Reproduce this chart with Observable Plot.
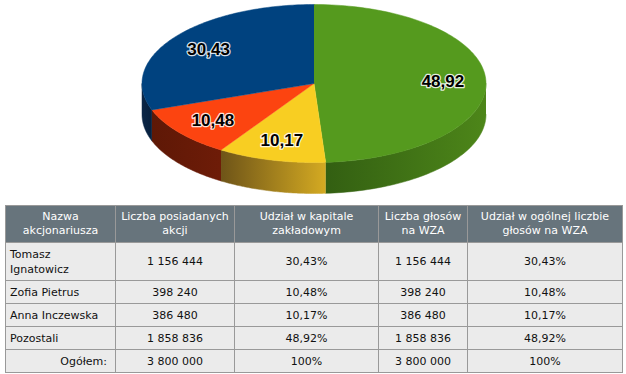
<!DOCTYPE html>
<html><head><meta charset="utf-8">
<script src="https://cdn.jsdelivr.net/npm/d3@7"></script>
<script src="https://cdn.jsdelivr.net/npm/@observablehq/plot@0.6"></script>
<style>
html,body{margin:0;padding:0;background:#fff;}
svg{display:block;}
table{border-collapse:collapse;margin-left:5px;width:617px;table-layout:fixed;font-family:"DejaVu Sans",Verdana,sans-serif;font-size:11px;color:#111;}
th,td{border:1px solid #999;padding:0 4px;}
th{background:#67747c;color:#fff;font-weight:normal;text-align:center;height:36px;line-height:14px;}
td{background:#ebebeb;text-align:center;height:22px;line-height:15px;}
td.n{text-align:left;}
td.r{text-align:right;padding-right:8px;}
tr.tall td{height:37px;}
</style></head><body>
<div id="chart"></div>
<script>
// ---- data ----
const names = ["Tomasz Ignatowicz", "Zofia Pietrus", "Anna Inczewska", "Pozostali"];
const shares = [1156444, 398240, 386480, 1858836];
const capitalPct = ["30,43%", "10,48%", "10,17%", "48,92%"];
const votes = [1156444, 398240, 386480, 1858836];
const votesPct = ["30,43%", "10,48%", "10,17%", "48,92%"];
const pieLabels = ["30,43", "10,48", "10,17", "48,92"];
const pieValues = [30.43, 10.48, 10.17, 48.92];
const totalLabel = "Ogółem:";
const totalShares = 3800000;
const totalPct = "100%";
const headers = ["Nazwa akcjonariusza", "Liczba posiadanych akcji", "Udział w kapitale zakładowym", "Liczba głosów na WZA", "Udział w ogólnej liczbie głosów na WZA"];
const topColors = ["#00427f", "#fc4410", "#f8ce22", "#559a1e"];
const sideGrads = [["#0b2646","#06203e"], ["#5e1806","#6e1c08"], ["#6e5418","#d4aa22"], ["#335f12","#4d8619"]];

// ---- geometry ----
const W = 626, H = 205;
const cx = 313.5, cy = 83, rx = 172, ry = 79, depth = 31;
// draw order in pie: clockwise from 12 o'clock: Pozostali, Anna, Zofia, Tomasz
const order = [3, 2, 1, 0];
const pie = d3.pie().sort(null).value(i => pieValues[i])(order);
const P = (t, k = 1, dz = 0) => ({x: cx + k * rx * Math.sin(t), y: cy - k * ry * Math.cos(t) + dz});

const marks = [];
// side walls (visible front half: angles between PI/2 and 3PI/2)
pie.forEach(s => {
  const a0 = Math.max(s.startAngle, Math.PI / 2), a1 = Math.min(s.endAngle, 3 * Math.PI / 2);
  if (a1 <= a0) return;
  const n = 60, pts = [];
  for (let j = 0; j <= n; j++) pts.push(P(a0 + (a1 - a0) * j / n));
  for (let j = n; j >= 0; j--) pts.push(P(a0 + (a1 - a0) * j / n, 1, depth));
  marks.push(Plot.line(pts, {x: "x", y: "y", fill: `url(#side${s.data})`, stroke: `url(#side${s.data})`, strokeWidth: 0.5, curve: "linear"}));
});
// top faces
pie.forEach(s => {
  const n = 120, pts = [{x: cx, y: cy}];
  for (let j = 0; j <= n; j++) pts.push(P(s.startAngle + (s.endAngle - s.startAngle) * j / n));
  marks.push(Plot.line(pts, {x: "x", y: "y", fill: topColors[s.data], stroke: topColors[s.data], strokeWidth: 0.5, curve: "linear"}));
});
// labels
const labelData = pie.map(s => ({...P((s.startAngle + s.endAngle) / 2, 0.75), text: pieLabels[s.data]}));
marks.push(Plot.text(labelData, {x: "x", y: "y", text: "text", fill: "#000", stroke: "#fff", strokeWidth: 2.5, strokeOpacity: 0.85,
  fontSize: 17, fontWeight: "bold", fontFamily: "Liberation Sans, Arial, sans-serif"}));

const svg = Plot.plot({
  width: W, height: H, margin: 0,
  x: {domain: [0, W], range: [0, W], axis: null},
  y: {domain: [0, H], range: [0, H], axis: null},
  marks
});
// gradient defs
const defs = d3.select(svg).insert("defs", ":first-child");
sideGrads.forEach((g, i) => {
  const lg = defs.append("linearGradient").attr("id", "side" + i).attr("x1", "0").attr("x2", "1").attr("y1", "0").attr("y2", "0");
  lg.append("stop").attr("offset", "0").attr("stop-color", g[0]);
  lg.append("stop").attr("offset", "1").attr("stop-color", g[1]);
});
document.getElementById("chart").appendChild(svg);

// ---- table ----
const fmt = v => String(v).replace(/\B(?=(\d{3})+(?!\d))/g, " ");
const widths = [110, 119, 144, 89, 155];
let html = "<table><colgroup>" + widths.map(w => `<col style="width:${w}px">`).join("") + "</colgroup><tr>" +
  headers.map(h => `<th>${h.replace(/ (akcjonariusza|akcji|zakładowym|na WZA$)/, "<br>$1").replace("liczbie głosów", "liczbie<br>głosów").replace("głosów<br>na WZA", "głosów na WZA")}</th>`).join("") + "</tr>";
names.forEach((n, i) => {
  html += `<tr${i === 0 ? ' class="tall"' : ""}><td class="n">${i === 0 ? n.replace(" ", "<br>") : n}</td><td>${fmt(shares[i])}</td><td>${capitalPct[i]}</td><td>${fmt(votes[i])}</td><td>${votesPct[i]}</td></tr>`;
});
html += `<tr><td class="r">${totalLabel}</td><td>${fmt(totalShares)}</td><td>${totalPct}</td><td>${fmt(totalShares)}</td><td>${totalPct}</td></tr></table>`;
document.body.insertAdjacentHTML("beforeend", html);
</script>
</body></html>
